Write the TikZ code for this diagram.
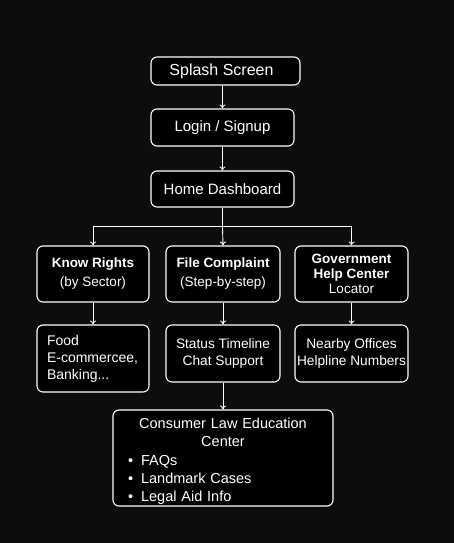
\documentclass[tikz,border=0pt]{standalone}
\usepackage{fontspec}
\setmainfont{Liberation Sans}
\usetikzlibrary{positioning,arrows.meta}

\tikzset{
  box/.style={draw=white,fill=black,line width=1.1pt,rounded corners=6pt,
    text=white,align=center,inner sep=2pt,font=\fontsize{13.7}{17}\selectfont},
  arr/.style={draw=white,line width=0.9pt,-{To[length=4pt,width=6pt]}}
}

\begin{document}
\begin{tikzpicture}[x=1pt,y=1pt]
    \fill[black!95] (0,0) rectangle (454,-543);
    \useasboundingbox (0,0) rectangle (454,-543);
    % top chain
    \node[box,minimum width=149pt,minimum height=28pt,font=\fontsize{16}{19}\selectfont] (splash) at (225.5,-71) {\hspace*{-8pt}Splash Screen};
    \node[box,minimum width=143pt,minimum height=37pt,font=\fontsize{15}{18}\selectfont] (login) at (222.5,-127.5) {Login / Signup};
    \node[box,minimum width=143pt,minimum height=36pt,font=\fontsize{15}{18}\selectfont] (home) at (222.5,-189) {Home Dashboard};
    % sections
    \node[box,minimum width=112pt,minimum height=56pt,font=\fontsize{13.5}{19}\selectfont] (rights) at (93,-274) {\textbf{Know Rights}\\(by Sector)};
    \node[box,minimum width=114pt,minimum height=56pt,font=\fontsize{13.5}{19}\selectfont] (complaint) at (223,-274) {\textbf{File Complaint}\\(Step-by-step)};
    \node[box,minimum width=113pt,minimum height=56pt,font=\fontsize{13.5}{15}\selectfont] (govhelp) at (351.5,-274) {\textbf{Government}\\\textbf{Help Center}\\Locator};
    % details
    \node[box,minimum width=112pt,minimum height=67pt,align=left,text width=92pt,inner sep=0pt,font=\fontsize{14}{17}\selectfont] (food) at (93,-358.5) {Food\\E-commercee,\\Banking...};
    \node[box,minimum width=114pt,minimum height=57pt] (status) at (223,-353.5) {Status Timeline\\Chat Support};
    \node[box,minimum width=113pt,minimum height=57pt] (nearby) at (351.5,-353.5) {Nearby Offices\\Helpline Numbers};
    % education
    \node[box,minimum width=220pt,minimum height=96pt,align=left,text width=200pt,inner sep=0pt,font=\fontsize{14.5}{18.3}\selectfont] (lawedu) at (223,-458)
      {\centering\rule{0pt}{17pt}Consumer Law Education\\Center\par
       \raggedright\hspace*{5pt}\textbullet\hspace{8pt}FAQs\\
       \hspace*{5pt}\textbullet\hspace{8pt}Landmark Cases\\
       \hspace*{5pt}\textbullet\hspace{8pt}Legal Aid Info\par};
    % connectors
    \draw[arr] (splash.south -| login.north) -- (login.north);
    \draw[arr] (login) -- (home);
    \coordinate (fork) at ([yshift=-19pt]home.south);
    \draw[arr] (home.south) -- (fork) -| (rights.north);
    \draw[arr] (fork) -- (complaint.north);
    \draw[arr] (fork) -| (govhelp.north);
    \draw[arr] (rights) -- (food);
    \draw[arr] (complaint) -- (status);
    \draw[arr] (govhelp) -- (nearby);
    \draw[arr] (status) -- (lawedu);
\end{tikzpicture}
\end{document}
